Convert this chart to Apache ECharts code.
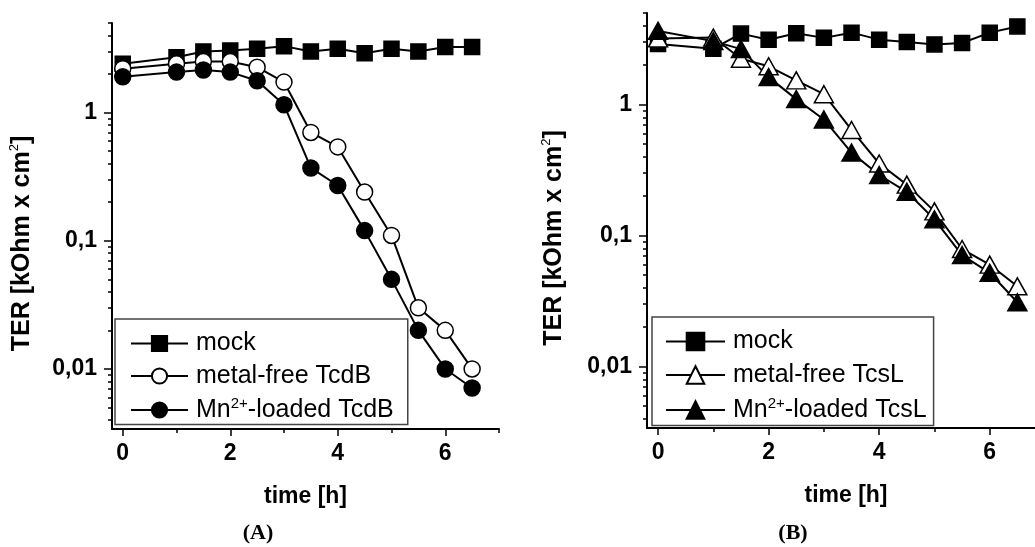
<!doctype html>
<html>
<head>
<meta charset="UTF-8">
<title>TER</title>
<style>
  html, body { margin: 0; padding: 0; background: #fff; }
  #chart { width: 1035px; height: 547px; }
</style>
</head>
<body>
<div id="chart"></div>
<script src="https://cdn.jsdelivr.net/npm/echarts@6/dist/echarts.min.js"></script>
<script>
// time points [h]
var TIME = [0, 1, 1.5, 2, 2.5, 3, 3.5, 4, 4.5, 5, 5.5, 6, 6.5];

// (A) TcdB
var MOCK_A = [2.4, 2.7, 3.0, 3.05, 3.15, 3.3, 3.0, 3.15, 2.9, 3.15, 3.0, 3.25, 3.25];
var FREE_TCDB = [2.2, 2.4, 2.5, 2.5, 2.26, 1.73, 0.70, 0.54, 0.24, 0.11, 0.030, 0.020, 0.010];
var MN_TCDB = [1.9, 2.07, 2.15, 2.07, 1.77, 1.15, 0.37, 0.27, 0.12, 0.050, 0.020, 0.010, 0.0071];

// (B) TcsL
var MOCK_B = [2.9, 2.67, 3.48, 3.12, 3.5, 3.23, 3.54, 3.13, 3.0, 2.88, 2.95, 3.54, 3.95];
var FREE_TCSL = [3.2, 3.25, 2.24, 1.96, 1.53, 1.2, 0.64, 0.355, 0.245, 0.153, 0.079, 0.060, 0.041];
var MN_TCSL = [3.65, 3.05, 2.65, 1.62, 1.1, 0.77, 0.43, 0.29, 0.216, 0.133, 0.071, 0.052, 0.031];

// axis ticks
var Y_MAJOR = [0.01, 0.1, 1];
var Y_LABELS = ['0,01', '0,1', '1'];
var Y_MIN = 0.0034, Y_MAX = 5;
var X_MAJOR = [0, 2, 4, 6];
var X_MINOR = [1, 3, 5, 7];

var FONT = '"Liberation Sans", Arial, sans-serif';
var lg = function (v) { return Math.log10(v); };

// minor log ticks 2..9 in every decade, inside the range
var yMinor = [];
[0.001, 0.01, 0.1, 1].forEach(function (d) {
  for (var k = 2; k <= 9; k++) {
    var v = d * k;
    if (v >= Y_MIN && v <= Y_MAX + 1e-9) yMinor.push(lg(v));
  }
});

function pairs(ys) {
  return TIME.map(function (t, i) { return [t, lg(ys[i])]; });
}

function yLabel(v) {
  for (var i = 0; i < Y_MAJOR.length; i++) {
    if (Math.abs(lg(Y_MAJOR[i]) - v) < 1e-6) return Y_LABELS[i];
  }
  return '';
}

var axisLine = { onZero: false, lineStyle: { color: '#000', width: 2 } };

function xAxes(grid) {
  return [{
    gridIndex: grid, type: 'value', position: 'bottom', min: -0.2, max: 7,
    axisLine: axisLine,
    axisTick: { customValues: X_MAJOR, length: 7, lineStyle: { color: '#000', width: 1.5 } },
    axisLabel: { customValues: X_MAJOR, margin: 13, color: '#000', fontSize: 23, fontWeight: 'bold', fontFamily: FONT },
    splitLine: { show: false },
    name: 'time [h]', nameLocation: 'middle', nameGap: 56,
    nameTextStyle: { color: '#000', fontSize: 23, fontWeight: 'bold', fontFamily: FONT }
  }, {
    gridIndex: grid, type: 'value', position: 'bottom', min: -0.2, max: 7,
    axisLine: { show: false, onZero: false },
    axisTick: { customValues: X_MINOR, length: 4, lineStyle: { color: '#000', width: 1.5 } },
    axisLabel: { show: false },
    splitLine: { show: false }
  }];
}

function yAxes(grid, gap) {
  return [{
    gridIndex: grid, type: 'value', position: 'left', min: lg(Y_MIN), max: lg(Y_MAX),
    axisLine: axisLine,
    axisTick: { customValues: Y_MAJOR.map(lg), length: 8, lineStyle: { color: '#000', width: 1.5 } },
    axisLabel: { customValues: Y_MAJOR.map(lg), formatter: yLabel, margin: 15, color: '#000', fontSize: 23, fontWeight: 'bold', fontFamily: FONT },
    splitLine: { show: false },
    name: '{b|TER [kOhm x cm}{s|2}{b|]}', nameLocation: 'middle', nameGap: gap,
    nameTextStyle: {
      color: '#000', padding: [0, 35, 0, 0],
      rich: {
        b: { fontSize: 25, fontWeight: 'bold', fontFamily: FONT, color: '#000', lineHeight: 28 },
        s: { fontSize: 13, fontFamily: FONT, color: '#000', verticalAlign: 'top', lineHeight: 13 }
      }
    }
  }, {
    gridIndex: grid, type: 'value', position: 'left', min: lg(Y_MIN), max: lg(Y_MAX),
    axisLine: { show: false, onZero: false },
    axisTick: { customValues: yMinor, length: 4, lineStyle: { color: '#000', width: 1.5 } },
    axisLabel: { show: false },
    splitLine: { show: false }
  }];
}

function series(name, ys, grid, symbol, size, fill) {
  return {
    name: name, type: 'line', xAxisIndex: grid * 2, yAxisIndex: grid * 2,
    data: pairs(ys), symbol: symbol, symbolSize: size, showSymbol: true,
    lineStyle: { color: '#000', width: 2 },
    itemStyle: { color: fill, borderColor: '#000', borderWidth: 1.5 },
    emphasis: { disabled: true }
  };
}

var legendRich = {
  n: { fontSize: 25, fontFamily: FONT, color: '#000', lineHeight: 28, padding: [0, 0, 0, 3] },
  s: { fontSize: 15, fontFamily: FONT, color: '#000', lineHeight: 15, verticalAlign: 'top' },
  m: { fontSize: 25, fontFamily: FONT, color: '#000', lineHeight: 28 }
};
function legendFmt(name) {
  if (name.indexOf('Mn2+') === 0) return '{n|Mn}{s|2+}{m|' + name.slice(4) + '}';
  return '{n|' + name + '}';
}

var option = {
  animation: false,
  backgroundColor: '#fff',
  grid: [
    { left: 112, right: 536, top: 23, bottom: 118, outerBoundsMode: 'none' },
    { left: 647, right: -10, top: 13, bottom: 119, outerBoundsMode: 'none' }
  ],
  xAxis: xAxes(0).concat(xAxes(1)),
  yAxis: yAxes(0, 76).concat(yAxes(1, 79)),
  legend: [{
    data: ['mock', 'metal-free TcdB', 'Mn2+-loaded TcdB'],
    orient: 'vertical', left: 115, top: 319,
    padding: [12, 14, 2, 15], itemGap: 7.5, itemWidth: 57, itemHeight: 19,
    borderColor: '#444', borderWidth: 1.5, borderRadius: 0, backgroundColor: '#fff',
    selectedMode: false, formatter: legendFmt,
    textStyle: { rich: legendRich }
  }, {
    data: ['mock ', 'metal-free TcsL', 'Mn2+-loaded TcsL'],
    orient: 'vertical', left: 652, top: 317,
    padding: [12, 7, 3, 13], itemGap: 8.5, itemWidth: 59, itemHeight: 22,
    borderColor: '#444', borderWidth: 1.5, borderRadius: 0, backgroundColor: '#fff',
    selectedMode: false, formatter: function (n) { return legendFmt(n.trim()); },
    textStyle: { rich: legendRich }
  }],
  graphic: [
    { type: 'text', x: 258, y: 533, style: { text: '(A)', font: 'bold 22px "Liberation Serif", serif', fill: '#000', textAlign: 'center', textVerticalAlign: 'middle' } },
    { type: 'text', x: 793, y: 533, style: { text: '(B)', font: 'bold 22px "Liberation Serif", serif', fill: '#000', textAlign: 'center', textVerticalAlign: 'middle' } }
  ],
  series: [
    series('mock', MOCK_A, 0, 'rect', 15, '#000'),
    series('metal-free TcdB', FREE_TCDB, 0, 'circle', 16, '#fff'),
    series('Mn2+-loaded TcdB', MN_TCDB, 0, 'circle', 16, '#000'),
    series('mock ', MOCK_B, 1, 'rect', 15, '#000'),
    series('metal-free TcsL', FREE_TCSL, 1, 'triangle', [19, 17], '#fff'),
    series('Mn2+-loaded TcsL', MN_TCSL, 1, 'triangle', [19, 17], '#000')
  ]
};

var chart = echarts.init(document.getElementById('chart'));
chart.setOption(option);
</script>
</body>
</html>
